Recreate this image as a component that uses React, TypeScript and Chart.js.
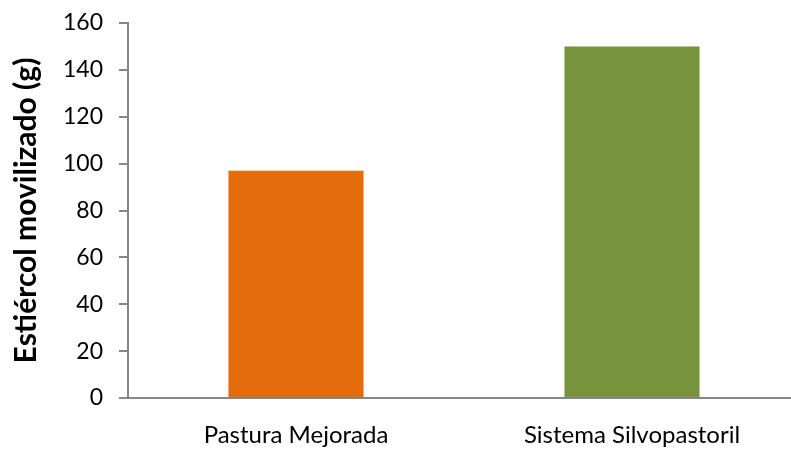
import React, { useEffect, useRef } from "react";
import { Chart, registerables } from "chart.js";

Chart.register(...registerables);

const categories = ["Pastura Mejorada", "Sistema Silvopastoril"];
const values = [97, 150];
const barColors = ["#E46C0A", "#77933C"];
const yTitle = "Estiércol movilizado (g)";
const yMin = 0;
const yMax = 160;
const yStep = 20;

export default function App() {
  const ref = useRef<HTMLCanvasElement>(null);
  useEffect(() => {
    if (!ref.current) return;
    const axisColor = "#868686";
    const chart = new Chart(ref.current, {
      type: "bar",
      data: {
        labels: categories,
        datasets: [
          {
            data: values,
            backgroundColor: barColors,
            borderWidth: 0,
            barPercentage: 0.402,
            categoryPercentage: 1,
          },
        ],
      },
      options: {
        responsive: false,
        animation: false,
        layout: { padding: { top: 23, right: 0, bottom: 0, left: 0 } },
        plugins: { legend: { display: false }, tooltip: { enabled: false } },
        scales: {
          x: {
            afterFit: (scale: any) => {
              scale.height = 56;
              scale.paddingLeft = 0;
              scale.paddingRight = 0;
            },
            grid: { display: false, drawTicks: false, tickLength: 0 },
            border: { display: true, color: axisColor, width: 2 },
            ticks: {
              padding: 23,
              color: "#000",
              font: { family: "Lato", size: 24, lineHeight: 1.2 },
              maxRotation: 0,
            },
          },
          y: {
            min: yMin,
            max: yMax,
            afterFit: (scale: any) => {
              scale.width = 128;
              scale.paddingTop = 0;
              scale.paddingBottom = 0;
            },
            grid: {
              display: true,
              drawOnChartArea: false,
              drawTicks: true,
              tickLength: 9,
              color: axisColor,
              lineWidth: 2,
            },
            border: { display: true, color: axisColor, width: 2 },
            ticks: {
              stepSize: yStep,
              padding: 16,
              color: "#000",
              font: { family: "Lato", size: 23, lineHeight: 1.2 },
            },
            title: {
              display: true,
              text: yTitle,
              color: "#000",
              padding: { top: 8, bottom: 0 },
              font: { family: "Lato", size: 30, weight: "bold", lineHeight: 1.2 },
            },
          },
        },
      },
    });
    return () => chart.destroy();
  }, []);
  return (
    <div
      style={{
        position: "fixed",
        left: 0,
        top: 0,
        width: 791,
        height: 454,
        overflow: "hidden",
        background: "#fff",
      }}
    >
      <canvas ref={ref} width={800} height={454} style={{ display: "block" }} />
    </div>
  );
}
